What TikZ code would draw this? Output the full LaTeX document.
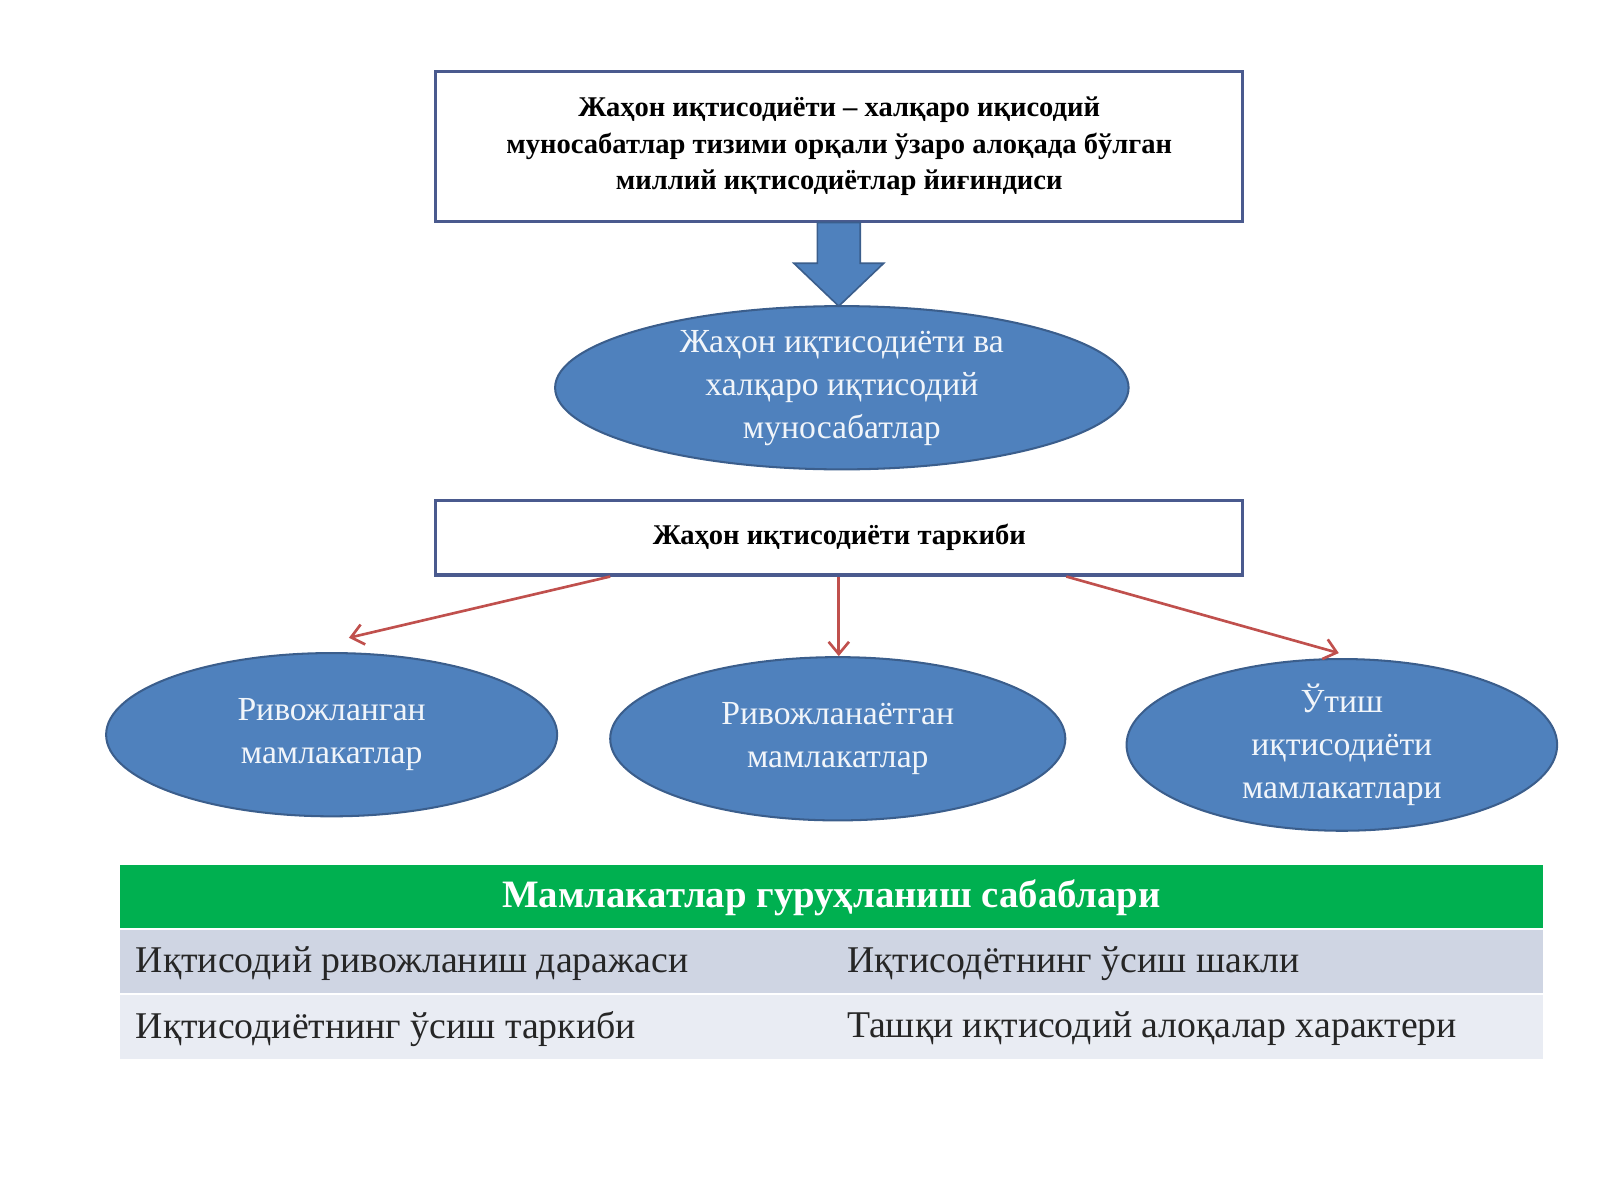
\documentclass[tikz,border=0pt]{standalone}
\usepackage{fontspec}
\setmainfont{Liberation Serif}
\usetikzlibrary{shapes.geometric,arrows.meta}
\definecolor{bd}{HTML}{4A5A8E}
\definecolor{ef}{HTML}{4F81BD}
\definecolor{eb}{HTML}{3B5E8C}
\definecolor{ar}{HTML}{C0504D}
\definecolor{gr}{HTML}{00B050}
\definecolor{r1}{HTML}{CFD5E3}
\definecolor{r2}{HTML}{E9ECF3}
\begin{document}
\begin{tikzpicture}[x=0.5pt,y=-0.5pt,
 box/.style={draw=bd,line width=1.5pt,fill=white,align=center,font=\bfseries\fontsize{14}{18}\selectfont,inner sep=0},
 ell/.style={ellipse,draw=eb,line width=1pt,fill=ef,text=white!92!ef,align=center,font=\fontsize{16.5}{21}\selectfont,inner sep=0},
 rar/.style={draw=ar,line width=1.3pt,-{Straight Barb[length=6pt,width=10pt]}},
 cell/.style={anchor=west,font=\fontsize{18.5}{22}\selectfont,text=black!85}]
\useasboundingbox (0,0) rectangle (1568,1176);
\node[box,minimum width=395.5pt,minimum height=73.5pt] (top) at (822.5,143.5) {Жаҳон иқтисодиёти – халқаро иқисодий\\муносабатлар тизими орқали ўзаро алоқада бўлган\\миллий иқтисодиётлар йиғиндиси};
\node[ell,minimum width=281pt,minimum height=80pt] (e0) at (825,380) {Жаҳон иқтисодиёти ва\\халқаро иқтисодий\\муносабатлар};
\coordinate (tip) at (822,300);
\draw[fill=ef,draw=eb,line width=0.8pt] (801,218)--(843,218)--(843,258)--(866,258)--(tip)--(778,258)--(801,258)--cycle;
\node[box,minimum width=395.5pt,minimum height=36.5pt] (mid) at (822.5,527) {Жаҳон иқтисодиёти таркиби};
\node[ell,minimum width=221pt,minimum height=80pt] (e1) at (325,720) {Ривожланган\\мамлакатлар};
\node[ell,minimum width=223pt,minimum height=80pt] (e2) at (821,724) {Ривожланаётган\\мамлакатлар};
\node[ell,minimum width=211pt,minimum height=80pt] (e3) at (1315,730) {Ўтиш\\иқтисодиёти\\мамлакатлари};
\coordinate (a1) at (598,565); \coordinate (b1) at (342,625);
\coordinate (a2) at (822,565); \coordinate (b2) at (822,643);
\coordinate (a3) at (1045,565); \coordinate (b3) at (1312,640);
\draw[rar] (a1)--(b1); \draw[rar] (a2)--(b2); \draw[rar] (a3)--(b3);
\fill[gr] (118,848) rectangle (1512,910);
\fill[r1] (118,910) rectangle (1512,974);
\fill[r2] (118,974) rectangle (1512,1038);
\draw[white,line width=1pt] (118,910)--(1512,910) (118,974)--(1512,974);
\node[font=\bfseries\fontsize{19}{22}\selectfont,text=white] (h) at (815,880) {Мамлакатлар гуруҳланиш сабаблари};
\node[cell] (c1) at (126,944) {Иқтисодий ривожланиш даражаси};
\node[cell] (c2) at (823,944) {Иқтисодётнинг ўсиш шакли};
\node[cell] (c3) at (126,1008) {Иқтисодиётнинг ўсиш таркиби};
\node[cell] (c4) at (823,1008) {Ташқи иқтисодий алоқалар характери};
\end{tikzpicture}
\end{document}
